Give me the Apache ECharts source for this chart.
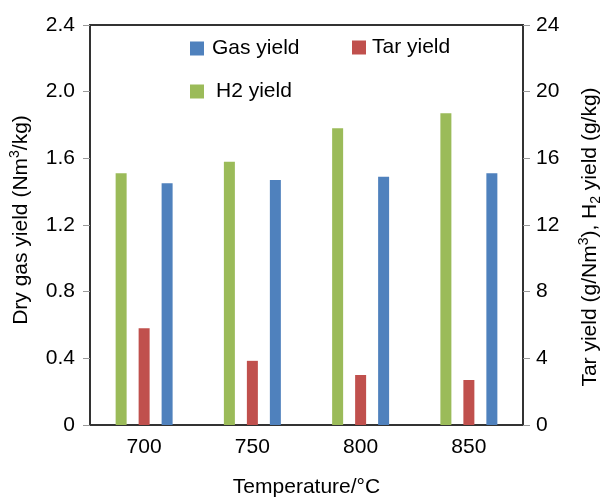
<!DOCTYPE html>
<html>
<head>
<meta charset="utf-8">
<script src="https://cdn.jsdelivr.net/npm/echarts@6/dist/echarts.min.js"></script>
<style>
  html, body { margin: 0; padding: 0; background: #fff; }
  #main { width: 611px; height: 503px; }
</style>
</head>
<body>
<div id="main"></div>
<script>
// temperatures (°C)
var temps = ['700', '750', '800', '850'];
// dry gas yield, Nm3/kg (left axis)
var gasYield = [1.45, 1.47, 1.49, 1.51];
// tar yield, g/Nm3 (right axis)
var tarYield = [5.8, 3.85, 3.0, 2.7];
// H2 yield, g/kg (right axis)
var h2Yield = [15.1, 15.8, 17.8, 18.7];

var font = "'Liberation Sans', Arial, Helvetica, sans-serif";
var lineCol = '#333';
var fs = 21;

var myChart = echarts.init(document.getElementById('main'));

var legendText = function (padLeft) {
    return { fontSize: fs, color: '#000', fontFamily: font, padding: [0, 0, 0, padLeft] };
};

var scriptRich = {
    sup: { fontSize: 14, verticalAlign: 'top', lineHeight: 26, color: '#000' },
    sub: { fontSize: 14, verticalAlign: 'bottom', lineHeight: 26, color: '#000' }
};

var option = {
    animation: false,
    textStyle: { fontFamily: font },
    grid: {
        left: 90, right: 75, top: 25, bottom: 62,
        show: true, borderColor: lineCol, borderWidth: 2, backgroundColor: '#fff'
    },
    legend: [
        { data: ['Gas yield'], left: 185, top: 33, itemWidth: 14, itemHeight: 14, icon: 'rect',
          textStyle: legendText(3) },
        { data: ['Tar yield'], left: 347, top: 32, itemWidth: 14, itemHeight: 14, icon: 'rect',
          textStyle: legendText(1) },
        { data: ['H2 yield'], left: 185, top: 76, itemWidth: 14, itemHeight: 14, icon: 'rect',
          textStyle: legendText(7) }
    ],
    xAxis: {
        type: 'category',
        data: temps,
        name: 'Temperature/°C',
        nameLocation: 'middle',
        nameGap: 52,
        nameTextStyle: { fontSize: fs, color: '#000' },
        axisLine: { lineStyle: { color: lineCol, width: 2 } },
        axisTick: { alignWithLabel: true, length: 7, lineStyle: { color: '#999' } },
        axisLabel: { fontSize: fs, color: '#000', margin: 12 }
    },
    yAxis: [
        {
            type: 'value', min: 0, max: 2.4, interval: 0.4,
            name: 'Dry gas yield (Nm{sup|3}/kg)',
            nameLocation: 'middle', nameRotate: 90, nameGap: 56,
            nameTextStyle: { fontSize: fs, color: '#000', lineHeight: 26, padding: [0, 0, 0, 10], rich: scriptRich },
            axisLine: { show: true, lineStyle: { color: lineCol, width: 2 } },
            axisTick: { show: true, length: 7, lineStyle: { color: '#999' } },
            splitLine: { show: false },
            axisLabel: {
                fontSize: fs, color: '#000', margin: 15,
                formatter: function (v) { return v === 0 ? '0' : v.toFixed(1); }
            }
        },
        {
            type: 'value', min: 0, max: 24, interval: 4,
            name: 'Tar yield (g/Nm{sup|3}), H{sub|2} yield (g/kg)',
            nameLocation: 'middle', nameRotate: 90, nameGap: 54,
            nameTextStyle: { fontSize: fs, color: '#000', lineHeight: 26, padding: [0, 24, 0, 0], rich: scriptRich },
            axisLine: { show: true, lineStyle: { color: lineCol, width: 2 } },
            axisTick: { show: true, length: 7, lineStyle: { color: '#999' } },
            splitLine: { show: false },
            axisLabel: { fontSize: fs, color: '#000', margin: 13 }
        }
    ],
    series: [
        { name: 'H2 yield', type: 'bar', yAxisIndex: 1, data: h2Yield,
          barWidth: 11, barGap: '109%', itemStyle: { color: '#9bbb59' } },
        { name: 'Tar yield', type: 'bar', yAxisIndex: 1, data: tarYield,
          barWidth: 11, barGap: '109%', itemStyle: { color: '#c0504d' } },
        { name: 'Gas yield', type: 'bar', yAxisIndex: 0, data: gasYield,
          barWidth: 11, barGap: '109%', itemStyle: { color: '#4f81bd' } }
    ]
};

myChart.setOption(option);
</script>
</body>
</html>
